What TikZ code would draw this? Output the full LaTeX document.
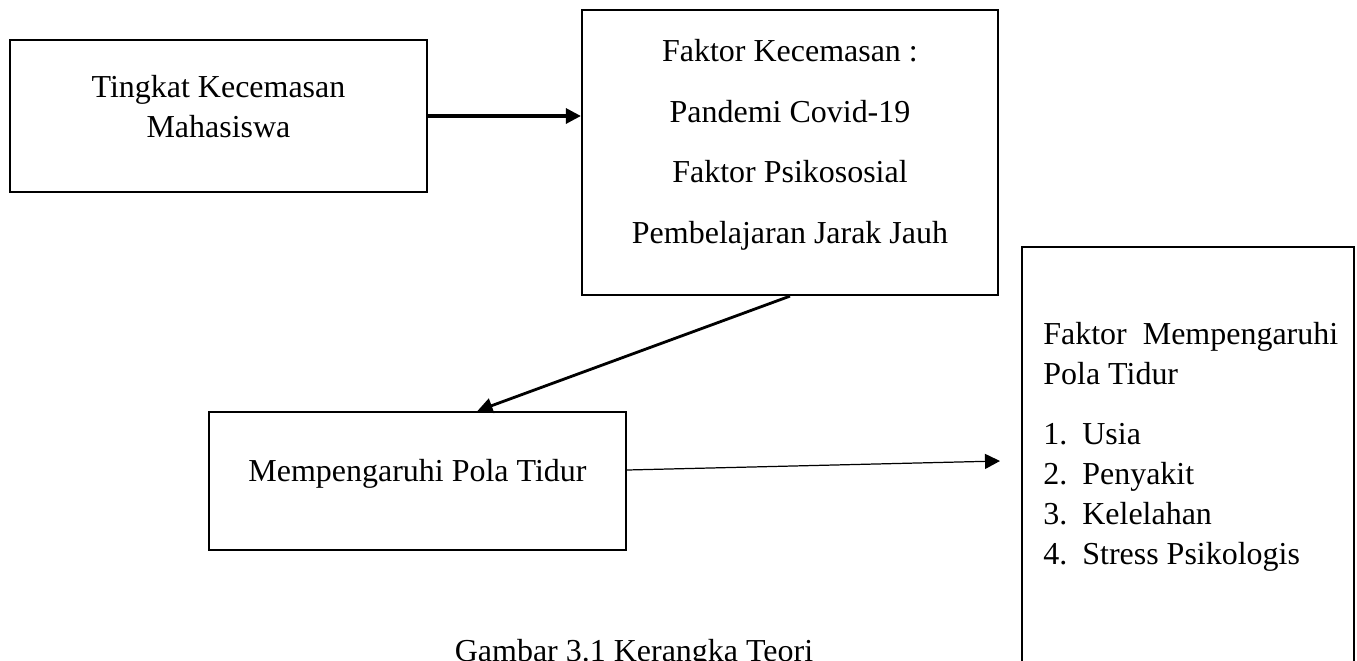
\documentclass[tikz,border=0pt]{standalone}
\usepackage{fontspec}
\setmainfont{Liberation Serif}
\usetikzlibrary{arrows.meta}
\tikzset{
  kotak/.style={draw, line width=1.3pt, inner sep=0pt},
  teks/.style={inner sep=0pt, align=center, font=\fontsize{18.2}{22.8}\selectfont},
  panah/.style={line width=1.8pt, -{Triangle[length=0.3cm, width=0.3cm]}},
}
\newcommand{\butir}[2]{\makebox[0.78cm][l]{#1}#2}
\begin{document}
\begin{tikzpicture}[x=0.02cm, y=-0.02cm]
    \useasboundingbox (0,0) rectangle (1357,660);

    % Draw boxes
    \node[kotak, minimum width=8.34cm, minimum height=3.04cm] (tingkat) at (218.5,116) {};
    \node[kotak, minimum width=8.32cm, minimum height=5.7cm] (faktor) at (790,152.5) {};
    \node[kotak, minimum width=8.34cm, minimum height=2.76cm] (pola) at (417.5,481) {};
    \node[kotak, minimum width=6.64cm, minimum height=9.06cm] (faktorpola) at (1188,473.5) {};

    % Box texts
    \node[teks, anchor=north] (tingkattxt) at (218.5,75) {Tingkat Kecemasan\\Mahasiswa};
    \node[teks, anchor=north, font=\fontsize{18.2}{34.7}\selectfont] (faktortxt) at (790,38.5)
        {Faktor Kecemasan :\\Pandemi Covid-19\\Faktor Psikososial\\Pembelajaran Jarak Jauh};
    \node[teks, anchor=base] (polatxt) at (417.5,481) {Mempengaruhi Pola Tidur};
    \node[teks, anchor=north west, align=left] (faktorpolatxt) at (1043,322)
        {Faktor\ \ Mempengaruhi\\Pola Tidur\\[0.4cm]
         \butir{1.}{Usia}\\\butir{2.}{Penyakit}\\\butir{3.}{Kelelahan}\\\butir{4.}{Stress Psikologis}};

    % Draw arrows
    \coordinate (ujung) at (1000,461);
    \draw[panah] (tingkat.east) -- (tingkat.east -| faktor.west);
    \draw[panah, line width=1.6pt] (faktor.south) -- ([xshift=1.2cm]pola.north);
    \draw[panah, line width=0.7pt] ([yshift=0.22cm]pola.east) -- (ujung);

    % Caption
    \node[teks, anchor=base] (judul) at (634,661) {Gambar 3.1 Kerangka Teori};
\end{tikzpicture}
\end{document}
